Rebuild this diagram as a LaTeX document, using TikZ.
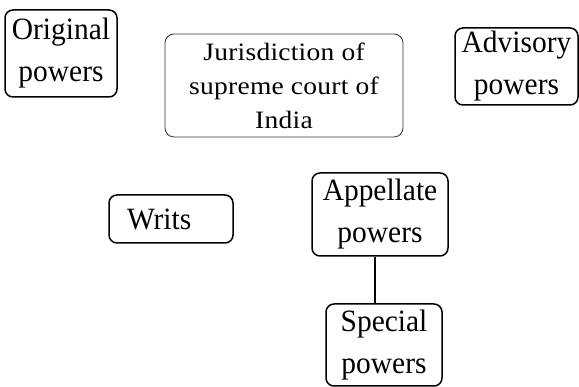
\documentclass[tikz,border=0pt]{standalone}
\usepackage{fontspec}
\setmainfont{Liberation Serif}
\newfontfamily\boxfont{Liberation Serif}[FakeStretch=0.95]
\newfontfamily\jurfont{Liberation Serif}[FakeStretch=1.1,LetterSpace=1]
\begin{document}
\begin{tikzpicture}[x=1pt,y=-1pt,
  pbox/.style={draw, line width=1.5pt, rounded corners=8pt, inner sep=0pt,
    align=center, font=\boxfont\fontsize{31}{42}\selectfont},
  jbox/.style={draw=black!80, line width=0.8pt, rounded corners=9pt, inner sep=0pt,
    align=center, font=\jurfont\fontsize{25}{34}\selectfont},
  link/.style={line width=1.5pt}]
\useasboundingbox (0,0) rectangle (579,387);
\node[pbox, minimum width=112pt, minimum height=87pt] (orig) at (61,53.5) {Original\\powers};
\node[jbox, minimum width=238pt, minimum height=103pt] (jur) at (284,85.5) {Jurisdiction of\\supreme court of\\India};
\node[pbox, minimum width=123pt, minimum height=77pt] (adv) at (516.5,66.5) {Advisory\\powers};
\node[pbox, minimum height=48pt, inner xsep=18pt, text width=88pt, align=left] (writs) at (171,219) {Writs};
\node[pbox, minimum width=136pt, minimum height=83pt] (app) at (380,214.5) {Appellate\\powers};
\node[pbox, minimum width=116pt, minimum height=82pt] (spec) at (384,345) {Special\\powers};
\draw[link] ([xshift=-5pt]app.south) -- ([xshift=-5pt]app.south |- spec.north);
\end{tikzpicture}
\end{document}
